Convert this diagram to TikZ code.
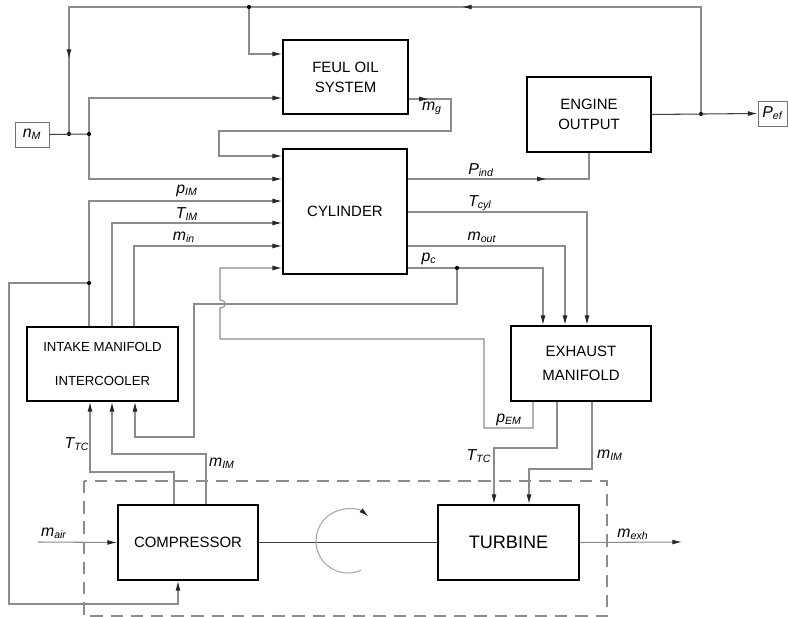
\documentclass[tikz,border=0pt]{standalone}
\usepackage{fontspec}
\setmainfont{Liberation Sans}
\usetikzlibrary{arrows.meta,decorations.markings}

\begin{document}
\begin{tikzpicture}[x=0.02cm,y=-0.02cm,
        box/.style={
        draw=black, line width=1pt, fill=white,
        align=center, inner sep=2pt,
        font=\fontsize{8.5}{11}\selectfont},
        tag/.style={
        draw=black!55, line width=0.5pt, fill=white,
        inner sep=0pt, font=\fontsize{9}{11}\selectfont\itshape},
        dot/.style={
        circle, fill=black, inner sep=0pt, minimum size=2.4pt},
        lbl/.style={inner sep=1pt, font=\fontsize{9}{11}\selectfont\itshape},
        wire/.style={draw=black!45, line width=0.6pt},
        dark/.style={draw=black!75},
        feed/.style={wire, -{Latex[length=5.5pt,width=2.8pt,color=black!85]}},
        marr/.style={postaction={decorate,
          decoration={markings,
          mark=at position #1 with {\arrow{Latex[length=5.5pt,width=2.8pt,color=black!85]}}}}},
        ]
        \useasboundingbox (0,0) rectangle (788,617);

        % turbocharger frame
        \draw[black!45, line width=0.7pt, dash pattern=on 7pt off 4.5pt]
            (84,481) rectangle (607,616);

        \node (fos) [box, minimum width=2.5cm, minimum height=1.48cm]
            at (345.5,77) {FEUL OIL\\[0.3pt]SYSTEM};
        \node (eng) [box, minimum width=2.48cm, minimum height=1.5cm]
            at (589,114.5) {ENGINE\\OUTPUT};
        \node (cyl) [box, minimum width=2.48cm, minimum height=2.5cm]
            at (345,211.5) {CYLINDER};
        \node (imi) [box, minimum width=3.02cm, minimum height=1.48cm,
            font=\fontsize{7.5}{11}\selectfont]
            at (102.5,364) {INTAKE MANIFOLD\\[8.3pt]INTERCOOLER};
        \node (exm) [box, minimum width=2.8cm, minimum height=1.5cm]
            at (581,363.5) {EXHAUST\\[3pt]MANIFOLD};
        \node (cmp) [box, minimum width=2.8cm, minimum height=1.5cm]
            at (188,542.5) {COMPRESSOR};
        \node (trb) [box, minimum width=2.82cm, minimum height=1.5cm,
            font=\fontsize{10.3}{12}\selectfont]
            at (508.5,542.5) {TURBINE};
        \node (nM) [tag, minimum width=0.68cm, minimum height=0.5cm]
            at (32,134.5) {n\textsubscript{M}};
        \node (Pef) [tag, minimum width=0.58cm, minimum height=0.5cm]
            at (772.5,113.5) {P\textsubscript{ef}};

        % junctions
        \node (j1) [dot] at (69,134) {};
        \node (j2) [dot] at (89,134) {};
        \node (jt) [dot] at (249,7) {};
        \node (jP) [dot] at (701,114) {};
        \node (jim) [dot] at (89,283) {};
        \node (jpc) [dot] at (457,268) {};
        \coordinate (air) at (38,542);
        \coordinate (exh) at (682,542);

        % speed and power loop
        \draw[wire, dark] (nM.east) -- (j2);
        \draw[feed, dark] (eng.east) -- (Pef.west);
        \draw[wire, marr=0.62] (jP) |- (jt);
        \draw[wire, marr=0.76] (jt) -| (j1);
        \draw[feed] (jt) |- (fos.west |- 0,54);
        \draw[feed] (j2) |- (fos.west |- 0,98);
        \draw[feed] (j2) |- (cyl.west |- 0,179);
        \draw[feed, marr=0.4cm] (fos.east |- 0,99) -| (451,131) -| (219,156)
            -- (cyl.west |- 0,156);
        \draw[wire, marr=2.78cm] (cyl.east |- 0,179) -| (eng.south);

        % intake side
        \draw[feed] (imi.north -| 89,0) -- (jim) |- (cyl.west |- 0,201);
        \draw[feed] (imi.north -| 112,0) |- (cyl.west |- 0,223);
        \draw[feed] (imi.north -| 134,0) |- (cyl.west |- 0,246);
        \draw[feed] (jim) -| (9,604) -| (cmp.south -| 178,0);
        \draw[feed] (cmp.north -| 174,0) |- (90,472) -- (imi.south -| 90,0);
        \draw[feed] (cmp.north -| 206,0) |- (112,454) -- (imi.south -| 112,0);

        % exhaust side
        \draw[feed] (cyl.east |- 0,212) -| (exm.north -| 587,0);
        \draw[feed] (cyl.east |- 0,246) -| (exm.north -| 565,0);
        \draw[wire] (cyl.east |- 0,268) -- (jpc);
        \draw[feed] (jpc) -| (exm.north -| 543,0);
        \draw[feed] (jpc) |- (194,304) |- (135,437) -- (imi.south -| 135,0);
        \draw[feed] (exm.south -| 533,0) |- (484,428) |- (220,339) -- (220,308)
            .. controls (227,308) and (227,300) .. (220,300)
            |- (cyl.west |- 0,268);
        \draw[feed] (exm.south -| 557,0) |- (494,448) -- (trb.north -| 494,0);
        \draw[feed] (exm.south -| 592,0) |- (529,469) -- (trb.north -| 529,0);

        % turbocharger
        \draw[feed] (air) -- (cmp.west);
        \draw[wire, dark] (cmp.east) -- (trb.west);
        \draw[feed] (trb.east) -- (exh);
        \draw[feed, black!35] (348,541) ++(294:0.64cm)
            arc[start angle=294, end angle=50, radius=0.64cm];

        % signal labels
        \node (lmg) [lbl] at (432,108) {m\textsubscript{g}};
        \node (lpind) [lbl] at (481,170) {P\textsubscript{ind}};
        \node (lpim) [lbl] at (187,191) {p\textsubscript{IM}};
        \node (ltim) [lbl] at (187,214) {T\textsubscript{IM}};
        \node (lmin) [lbl] at (184,237) {m\textsubscript{in}};
        \node (ltcyl) [lbl] at (480,203) {T\textsubscript{cyl}};
        \node (lmout) [lbl] at (482,237) {m\textsubscript{out}};
        \node (lpc) [lbl] at (429,259) {p\textsubscript{c}};
        \node (lpem) [lbl] at (509,420) {p\textsubscript{EM}};
        \node (lttca) [lbl] at (77,444) {T\textsubscript{TC}};
        \node (lmima) [lbl] at (222,463) {m\textsubscript{IM}};
        \node (lmair) [lbl] at (54,533) {m\textsubscript{air}};
        \node (lttcb) [lbl] at (479,456) {T\textsubscript{TC}};
        \node (lmimb) [lbl] at (610,455) {m\textsubscript{IM}};
        \node (lmexh) [lbl] at (633,534) {m\textsubscript{exh}};
    \end{tikzpicture}
\end{document}
